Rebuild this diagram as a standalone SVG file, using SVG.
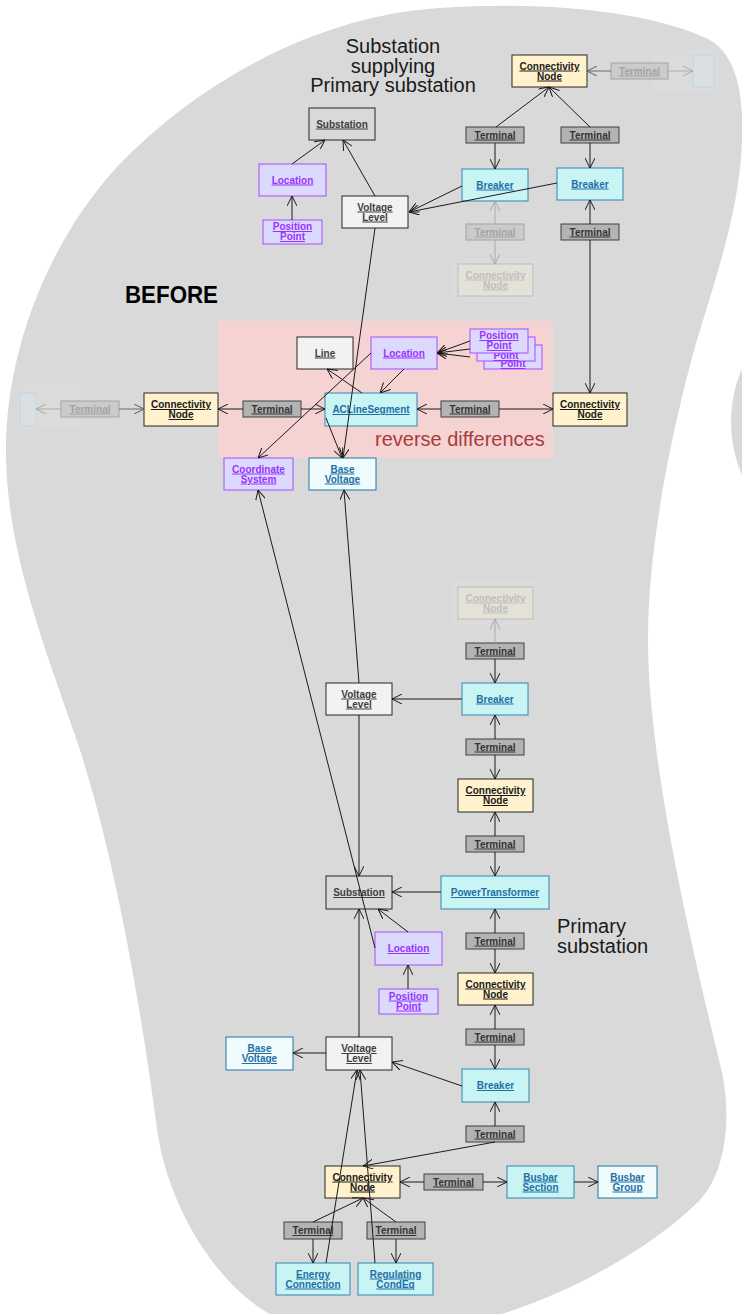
<svg xmlns="http://www.w3.org/2000/svg" width="742" height="1314" viewBox="0 0 742 1314">
<defs>
<marker id="a" viewBox="0 0 10 10" refX="10" refY="5" markerWidth="10" markerHeight="10" orient="auto" markerUnits="userSpaceOnUse"><path d="M0,0 L10,5 L0,10" fill="none" stroke="#1a1a1a" stroke-width="1"/></marker>
<marker id="ag" viewBox="0 0 10 10" refX="10" refY="5" markerWidth="10" markerHeight="10" orient="auto" markerUnits="userSpaceOnUse"><path d="M0,0 L10,5 L0,10" fill="none" stroke="#5a5a5a" stroke-width="1"/></marker>
<marker id="af" viewBox="0 0 10 10" refX="10" refY="5" markerWidth="10" markerHeight="10" orient="auto" markerUnits="userSpaceOnUse"><path d="M0,0 L10,5 L0,10" fill="none" stroke="#a8a8a8" stroke-width="1"/></marker>
<style>
rect{stroke-width:1}
.cn{fill:#fff2cc;stroke:#262626}
.tm{fill:#b3b3b3;stroke:#404040}
.eq{fill:#c9f4f4;stroke:#2e86b5}
.bv{fill:#effbfc;stroke:#1f77a8}
.loc{fill:#dcd9ff;stroke:#a64dff}
.vl{fill:#f2f2f2;stroke:#262626}
.ss{fill:#d9d9d9;stroke:#262626}
.ftm{fill:#cbcbcb;stroke:#a3a3a3}
.fcn{fill:#e4e1d6;stroke:#bdbdbd}
.fbx{fill:#d9dfe2;stroke:#c6d5dd}
text.t{font-family:"Liberation Sans",Arial,sans-serif;font-size:10px;font-weight:bold;text-decoration:underline;text-anchor:middle}
.kcn{fill:#1a1a1a}
.ktm{fill:#333333}
.keq{fill:#1f6fa5}
.kloc{fill:#9933ff}
.kvl{fill:#404040}
.kf{fill:#a3a3a3}
.kfc{fill:#bfbfbf}
.big{font-family:"Liberation Sans",Arial,sans-serif;font-size:20px;fill:#1a1a1a}
line.c{stroke:#1a1a1a;stroke-width:1;fill:none;marker-end:url(#a)}
line.g{stroke:#6a6a6a;stroke-width:1;fill:none;marker-end:url(#ag)}
line.f{stroke:#ababab;stroke-width:1;fill:none;marker-end:url(#af)}
.halo{fill:#ffffff;fill-opacity:0.07;stroke:none}
</style>
</defs>
<rect x="0" y="0" width="742" height="1314" fill="#ffffff"/>
<g id="background">
<path d="M440,8 C560,0 660,15 710,40 C735,55 744,90 742,140 C740,210 715,280 697,340 C680,400 648,530 648,640 C648,760 690,940 720,1064 C732,1110 728,1170 700,1200 C650,1250 560,1300 480,1320 L283,1320 C230,1300 170,1220 157,1129 C140,1000 115,860 80,750 C50,660 8,560 6,458 C4,350 50,240 117,167 C200,80 320,15 440,8 Z" fill="#d9d9d9"/>
<ellipse cx="800" cy="422" rx="69" ry="98" fill="#d9d9d9"/>
<rect x="218" y="321" width="335" height="137" fill="#f5d3d3" stroke="none"/>
<rect class="halo" x="652" y="50" width="66" height="42"/>
<rect class="halo" x="453" y="258" width="85" height="44"/>
<rect class="halo" x="18" y="383" width="64" height="45"/>
<rect class="halo" x="453" y="581" width="85" height="45"/>
</g>
<g id="labels">
<text class="big" x="393" y="53" text-anchor="middle">Substation</text>
<text class="big" x="393" y="72.5" text-anchor="middle">supplying</text>
<text class="big" x="393" y="92" text-anchor="middle">Primary substation</text>
<text x="125" y="303" font-family="Liberation Sans, Arial, sans-serif" font-size="24" font-weight="bold" fill="#000" textLength="93" lengthAdjust="spacingAndGlyphs">BEFORE</text>
<text x="375" y="446" font-family="Liberation Sans, Arial, sans-serif" font-size="20" fill="#a83c3c">reverse differences</text>
<text class="big" x="557" y="932.5">Primary</text>
<text class="big" x="557" y="953">substation</text>
</g>
<g id="nodes">
<g id="ss1"><rect class="ss" x="309" y="108" width="66" height="32"/><text class="t kvl" x="342" y="127.5">Substation</text></g>
<g id="loc1"><rect class="loc" x="259" y="164" width="67" height="32"/><text class="t kloc" x="292.5" y="183.5">Location</text></g>
<g id="pp1"><rect class="loc" x="263" y="220" width="59" height="24"/><text class="t kloc" x="292.5" y="230">Position</text><text class="t kloc" x="292.5" y="240">Point</text></g>
<g id="vl1"><rect class="vl" x="342" y="196" width="66" height="32"/><text class="t kvl" x="375" y="210.5">Voltage</text><text class="t kvl" x="375" y="220.5">Level</text></g>
<g id="cn1"><rect class="cn" x="512" y="55" width="75" height="32"/><text class="t kcn" x="549.5" y="69.5">Connectivity</text><text class="t kcn" x="549.5" y="79.5">Node</text></g>
<g id="tf1"><rect class="ftm" x="611" y="63" width="57" height="16"/><text class="t kf" x="639.5" y="74.5">Terminal</text></g>
<g id="xf1"><rect class="fbx" x="693" y="55" width="21" height="32"/></g>
<g id="t1"><rect class="tm" x="466" y="127" width="58" height="16"/><text class="t ktm" x="495" y="138.5">Terminal</text></g>
<g id="t2"><rect class="tm" x="561" y="127" width="58" height="16"/><text class="t ktm" x="590" y="138.5">Terminal</text></g>
<g id="br1"><rect class="eq" x="462" y="169" width="66" height="32"/><text class="t keq" x="495" y="188.5">Breaker</text></g>
<g id="br2"><rect class="eq" x="557" y="168" width="66" height="32"/><text class="t keq" x="590" y="187.5">Breaker</text></g>
<g id="tf2"><rect class="ftm" x="466" y="224" width="58" height="16"/><text class="t kf" x="495" y="235.5">Terminal</text></g>
<g id="cnf1"><rect class="fcn" x="458" y="264" width="75" height="32"/><text class="t kfc" x="495.5" y="278.5">Connectivity</text><text class="t kfc" x="495.5" y="288.5">Node</text></g>
<g id="t3"><rect class="tm" x="561" y="224" width="58" height="16"/><text class="t ktm" x="590" y="235.5">Terminal</text></g>

<g id="line"><rect class="vl" x="297" y="337" width="56" height="32"/><text class="t kvl" x="325" y="356.5">Line</text></g>
<g id="loc2"><rect class="loc" x="371" y="337" width="66" height="32"/><text class="t kloc" x="404" y="356.5">Location</text></g>
<g id="pp2c"><rect class="loc" x="484" y="345" width="58" height="24"/><text class="t kloc" x="513" y="367">Point</text></g>
<g id="pp2b"><rect class="loc" x="477" y="337" width="58" height="24"/><text class="t kloc" x="506" y="359">Point</text></g>
<g id="pp2a"><rect class="loc" x="470" y="329" width="58" height="24"/><text class="t kloc" x="499" y="339">Position</text><text class="t kloc" x="499" y="349">Point</text></g>
<g id="cn2"><rect class="cn" x="144" y="393" width="74" height="33"/><text class="t kcn" x="181" y="408">Connectivity</text><text class="t kcn" x="181" y="418">Node</text></g>
<g id="t4"><rect class="tm" x="243" y="401" width="58" height="16"/><text class="t ktm" x="272" y="412.5">Terminal</text></g>
<g id="tf3"><rect class="ftm" x="61" y="401" width="58" height="16"/><text class="t kf" x="90" y="412.5">Terminal</text></g>
<g id="xf2"><rect class="fbx" x="20" y="393" width="16" height="33"/></g>
<g id="acls"><rect class="eq" x="325" y="393" width="92" height="33"/><text class="t keq" x="371" y="413">ACLineSegment</text></g>
<g id="t5"><rect class="tm" x="441" y="401" width="58" height="16"/><text class="t ktm" x="470" y="412.5">Terminal</text></g>
<g id="cn3"><rect class="cn" x="553" y="393" width="74" height="33"/><text class="t kcn" x="590" y="408">Connectivity</text><text class="t kcn" x="590" y="418">Node</text></g>
<g id="cs"><rect class="loc" x="224" y="458" width="69" height="32"/><text class="t kloc" x="258.5" y="472.5">Coordinate</text><text class="t kloc" x="258.5" y="482.5">System</text></g>
<g id="bv1"><rect class="bv" x="309" y="458" width="67" height="32"/><text class="t keq" x="342.5" y="472.5">Base</text><text class="t keq" x="342.5" y="482.5">Voltage</text></g>

<g id="cnf2"><rect class="fcn" x="458" y="587" width="75" height="32"/><text class="t kfc" x="495.5" y="601.5">Connectivity</text><text class="t kfc" x="495.5" y="611.5">Node</text></g>
<g id="t6"><rect class="tm" x="466" y="643" width="58" height="16"/><text class="t ktm" x="495" y="654.5">Terminal</text></g>
<g id="vl2"><rect class="vl" x="326" y="683" width="66" height="32"/><text class="t kvl" x="359" y="697.5">Voltage</text><text class="t kvl" x="359" y="707.5">Level</text></g>
<g id="br3"><rect class="eq" x="462" y="683" width="66" height="32"/><text class="t keq" x="495" y="702.5">Breaker</text></g>
<g id="t7"><rect class="tm" x="466" y="739" width="58" height="16"/><text class="t ktm" x="495" y="750.5">Terminal</text></g>
<g id="cn4"><rect class="cn" x="458" y="779" width="75" height="33"/><text class="t kcn" x="495.5" y="794">Connectivity</text><text class="t kcn" x="495.5" y="804">Node</text></g>
<g id="t8"><rect class="tm" x="466" y="836" width="58" height="16"/><text class="t ktm" x="495" y="847.5">Terminal</text></g>
<g id="ss2"><rect class="ss" x="326" y="876" width="66" height="33"/><text class="t kvl" x="359" y="896">Substation</text></g>
<g id="pt"><rect class="eq" x="441" y="876" width="108" height="33"/><text class="t keq" x="495" y="896">PowerTransformer</text></g>
<g id="loc3"><rect class="loc" x="375" y="932" width="67" height="33"/><text class="t kloc" x="408.5" y="952">Location</text></g>
<g id="pp3"><rect class="loc" x="379" y="989" width="59" height="25"/><text class="t kloc" x="408.5" y="999.5">Position</text><text class="t kloc" x="408.5" y="1009.5">Point</text></g>
<g id="t9"><rect class="tm" x="466" y="933" width="58" height="16"/><text class="t ktm" x="495" y="944.5">Terminal</text></g>
<g id="cn5"><rect class="cn" x="458" y="973" width="75" height="32"/><text class="t kcn" x="495.5" y="987.5">Connectivity</text><text class="t kcn" x="495.5" y="997.5">Node</text></g>
<g id="t10"><rect class="tm" x="466" y="1029" width="58" height="16"/><text class="t ktm" x="495" y="1040.5">Terminal</text></g>
<g id="bv2"><rect class="bv" x="226" y="1037" width="67" height="33"/><text class="t keq" x="259.5" y="1052">Base</text><text class="t keq" x="259.5" y="1062">Voltage</text></g>
<g id="vl3"><rect class="vl" x="326" y="1037" width="66" height="33"/><text class="t kvl" x="359" y="1052">Voltage</text><text class="t kvl" x="359" y="1062">Level</text></g>
<g id="br4"><rect class="eq" x="462" y="1069" width="67" height="33"/><text class="t keq" x="495.5" y="1089">Breaker</text></g>
<g id="t11"><rect class="tm" x="466" y="1126" width="58" height="16"/><text class="t ktm" x="495" y="1137.5">Terminal</text></g>
<g id="cn6"><rect class="cn" x="325" y="1166" width="75" height="32"/><text class="t kcn" x="362.5" y="1180.5">Connectivity</text><text class="t kcn" x="362.5" y="1190.5">Node</text></g>
<g id="t12"><rect class="tm" x="424" y="1174" width="59" height="16"/><text class="t ktm" x="453.5" y="1185.5">Terminal</text></g>
<g id="bs"><rect class="eq" x="507" y="1166" width="67" height="32"/><text class="t keq" x="540.5" y="1180.5">Busbar</text><text class="t keq" x="540.5" y="1190.5">Section</text></g>
<g id="bg"><rect class="bv" x="598" y="1166" width="59" height="32"/><text class="t keq" x="627.5" y="1180.5">Busbar</text><text class="t keq" x="627.5" y="1190.5">Group</text></g>
<g id="t13"><rect class="tm" x="284" y="1222" width="58" height="17"/><text class="t ktm" x="313" y="1234">Terminal</text></g>
<g id="t14"><rect class="tm" x="367" y="1222" width="58" height="17"/><text class="t ktm" x="396" y="1234">Terminal</text></g>
<g id="ec"><rect class="eq" x="276" y="1263" width="74" height="32"/><text class="t keq" x="313" y="1277.5">Energy</text><text class="t keq" x="313" y="1287.5">Connection</text></g>
<g id="rc"><rect class="eq" x="358" y="1263" width="75" height="32"/><text class="t keq" x="395.5" y="1277.5">Regulating</text><text class="t keq" x="395.5" y="1287.5">CondEq</text></g>
</g>
<g id="connectors">
<line class="c" x1="292" y1="164" x2="325" y2="140"/>
<line class="c" x1="292" y1="220" x2="292" y2="196"/>
<line class="c" x1="375" y1="196" x2="343" y2="140"/>
<line class="c" x1="462" y1="186" x2="409" y2="212"/>
<line class="c" x1="557" y1="183" x2="409" y2="212"/>
<line class="c" x1="496" y1="127" x2="549" y2="87"/>
<line class="c" x1="590" y1="127" x2="549" y2="87"/>
<line class="c" x1="495" y1="143" x2="495" y2="169"/>
<line class="c" x1="590" y1="143" x2="590" y2="168"/>
<line class="f" x1="495" y1="224" x2="495" y2="201"/>
<line class="f" x1="495" y1="240" x2="495" y2="264"/>
<line class="c" x1="590" y1="224" x2="590" y2="200"/>
<line class="c" x1="590" y1="240" x2="590" y2="393"/>
<line class="g" x1="611" y1="71" x2="587" y2="71"/>
<line class="f" x1="668" y1="71" x2="693" y2="71"/>
<line class="c" x1="375" y1="228" x2="343" y2="458"/>
<line class="c" x1="404" y1="369" x2="380" y2="393"/>
<line class="c" x1="362" y1="393" x2="327" y2="369"/>
<line class="c" x1="371" y1="353" x2="258" y2="458"/>
<line class="c" x1="326" y1="418" x2="342" y2="458"/>
<line class="c" x1="470" y1="341" x2="437" y2="353"/>
<line class="c" x1="470" y1="349" x2="437" y2="353"/>
<line class="c" x1="470" y1="357" x2="437" y2="353"/>
<line class="c" x1="243" y1="409" x2="218" y2="409"/>
<line class="c" x1="301" y1="409" x2="325" y2="409"/>
<line class="c" x1="441" y1="409" x2="417" y2="409"/>
<line class="c" x1="499" y1="409" x2="553" y2="409"/>
<line class="g" x1="119" y1="409" x2="144" y2="409"/>
<line class="f" x1="61" y1="409" x2="36" y2="409"/>
<line class="c" x1="359" y1="683" x2="344" y2="490"/>
<line class="c" x1="375" y1="948" x2="258" y2="490"/>
<line class="c" x1="462" y1="699" x2="392" y2="699"/>
<line class="c" x1="495" y1="659" x2="495" y2="683"/>
<line class="f" x1="495" y1="643" x2="495" y2="619"/>
<line class="c" x1="495" y1="739" x2="495" y2="715"/>
<line class="c" x1="495" y1="755" x2="495" y2="779"/>
<line class="c" x1="495" y1="836" x2="495" y2="812"/>
<line class="c" x1="495" y1="852" x2="495" y2="876"/>
<line class="c" x1="359" y1="715" x2="359" y2="876"/>
<line class="c" x1="441" y1="892" x2="392" y2="892"/>
<line class="c" x1="408" y1="932" x2="378" y2="909"/>
<line class="c" x1="408" y1="989" x2="408" y2="965"/>
<line class="c" x1="495" y1="933" x2="495" y2="909"/>
<line class="c" x1="495" y1="949" x2="495" y2="973"/>
<line class="c" x1="495" y1="1029" x2="495" y2="1005"/>
<line class="c" x1="495" y1="1045" x2="495" y2="1069"/>
<line class="c" x1="359" y1="1037" x2="359" y2="909"/>
<line class="c" x1="326" y1="1053" x2="293" y2="1053"/>
<line class="c" x1="462" y1="1086" x2="392" y2="1062"/>
<line class="c" x1="495" y1="1126" x2="495" y2="1102"/>
<line class="c" x1="495" y1="1142" x2="363" y2="1166"/>
<line class="c" x1="424" y1="1182" x2="400" y2="1182"/>
<line class="c" x1="483" y1="1182" x2="507" y2="1182"/>
<line class="c" x1="574" y1="1182" x2="598" y2="1182"/>
<line class="c" x1="313" y1="1222" x2="363" y2="1198"/>
<line class="c" x1="313" y1="1239" x2="313" y2="1263"/>
<line class="c" x1="396" y1="1222" x2="363" y2="1198"/>
<line class="c" x1="396" y1="1239" x2="396" y2="1263"/>
<line class="c" x1="326" y1="1263" x2="357" y2="1070"/>
<line class="c" x1="375" y1="1263" x2="360" y2="1070"/>
</g>
</svg>
